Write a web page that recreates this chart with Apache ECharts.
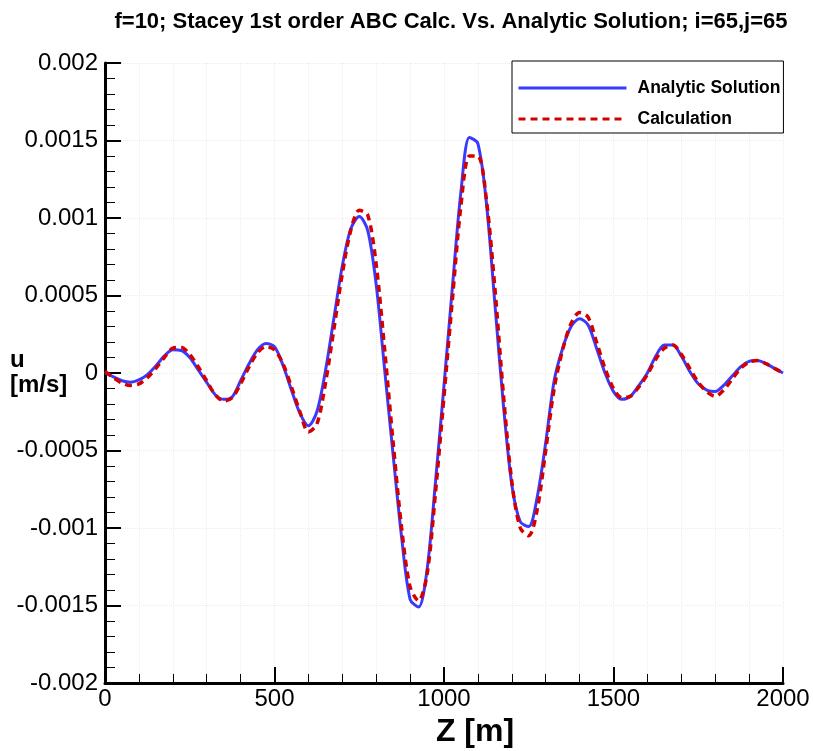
<!DOCTYPE html>
<html>
<head>
<meta charset="utf-8">
<script src="https://cdn.jsdelivr.net/npm/echarts@6/dist/echarts.min.js"></script>
<style>
  html, body { margin: 0; padding: 0; background: #fff; }
  #chart { width: 813px; height: 751px; }
</style>
</head>
<body>
<div id="chart"></div>
<script>
// z positions [m]
var zValues = [0, 25, 50, 75, 100, 125, 150, 175, 200, 225, 250, 275, 300, 325, 350, 375, 400, 425, 450, 475,
    500, 525, 550, 575, 600, 625, 650, 675, 700, 725, 750, 775, 800, 825, 850, 875, 900, 925, 950, 975,
    1000, 1025, 1050, 1075, 1100, 1125, 1150, 1175, 1200, 1225, 1250, 1275, 1300, 1325, 1350, 1375, 1400, 1425, 1450, 1475,
    1500, 1525, 1550, 1575, 1600, 1625, 1650, 1675, 1700, 1725, 1750, 1775, 1800, 1825, 1850, 1875, 1900, 1925, 1950, 1975, 2000];

// u [m/s], analytic solution
var analytic = [0, -0.000025, -0.00005, -0.00006, -0.000045, -0.00001, 0.000045, 0.00011, 0.00015, 0.000145,
    0.0001, 0.00002, -0.00006, -0.00014, -0.00017, -0.000155, -0.00005, 0.00006, 0.00015, 0.00019,
    0.00017, 0.00005, -0.00011, -0.00026, -0.00034, -0.00025, 0.00001, 0.00035, 0.00069, 0.00093,
    0.00101, 0.00092, 0.00057, 0.00002, -0.00053, -0.00106, -0.00146, -0.00151, -0.00127, -0.0007,
    -0.00008, 0.00056, 0.00117, 0.00152, 0.00148, 0.0011, 0.00045, -0.0002, -0.00072, -0.00096,
    -0.00099, -0.0008, -0.00045, -0.00005, 0.00016, 0.0003, 0.00035, 0.00031, 0.00016, 0,
    -0.00012, -0.00017, -0.00015, -0.00008, 0, 0.00011, 0.00018, 0.00018, 0.00011, 0.00001,
    -0.00007, -0.00011, -0.00012, -0.00008, -0.00002, 0.00004, 0.000075, 0.00008, 0.00006, 0.00003, 0];

// u [m/s], Stacey 1st order ABC calculation
var calculation = [0.00001, -0.00003, -0.000065, -0.00008, -0.00007, -0.00003, 0.00003, 0.0001, 0.00016, 0.000165,
    0.00012, 0.00004, -0.00005, -0.00014, -0.00018, -0.00016, -0.00007, 0.00004, 0.00013, 0.00017,
    0.00015, 0.00006, -0.00009, -0.00025, -0.00038, -0.00033, -0.00007, 0.00028, 0.00064, 0.00092,
    0.00105, 0.00102, 0.0007, 0.00015, -0.00045, -0.001, -0.00138, -0.00147, -0.0013, -0.00077,
    -0.00015, 0.00048, 0.00108, 0.0014, 0.0014, 0.00112, 0.00055, -0.00013, -0.0007, -0.001,
    -0.00105, -0.00088, -0.0005, -0.0001, 0.00015, 0.00032, 0.00039, 0.00036, 0.0002, 0.00003,
    -0.0001, -0.00016, -0.00015, -0.00009, -0.00001, 0.00009, 0.00016, 0.00018, 0.00012, 0.00003,
    -0.00006, -0.00012, -0.00015, -0.00011, -0.00004, 0.00003, 0.00007, 0.00008, 0.00006, 0.00003, 0];

var pairs = function (xs, ys) {
    return xs.map(function (x, i) { return [x, ys[i]]; });
};

var font = "'Liberation Sans', Arial, Helvetica, sans-serif";
var chart = echarts.init(document.getElementById('chart'));

chart.setOption({
    animation: false,
    backgroundColor: '#fff',
    title: {
        text: 'f=10; Stacey 1st order ABC Calc. Vs. Analytic Solution; i=65,j=65',
        left: 446,
        textAlign: 'center',
        top: 6,
        textStyle: { fontFamily: font, fontSize: 22, fontWeight: 'bold', color: '#000' }
    },
    legend: {
        orient: 'vertical',
        left: 512,
        top: 61,
        padding: [18, 3, 5, 5],
        itemWidth: 108,
        itemHeight: 14,
        itemGap: 13,
        backgroundColor: '#fff',
        borderColor: '#000',
        borderWidth: 1,
        borderRadius: 0,
        itemStyle: { opacity: 0 },
        lineStyle: { width: 3 },
        textStyle: { fontFamily: font, fontSize: 17.5, fontWeight: 'bold', color: '#000', padding: [0, 0, 0, 6] },
        data: ['Analytic Solution', 'Calculation']
    },
    grid: { left: 105, right: 30, top: 63, bottom: 68, outerBoundsMode: 'none', containLabel: false },
    xAxis: {
        type: 'value',
        min: 0, max: 2000, interval: 500,
        name: 'Z [m]',
        nameLocation: 'middle',
        nameGap: 32,
        nameTextStyle: { fontFamily: font, fontSize: 32, fontWeight: 'bold', color: '#000', padding: [0, 0, 0, 62] },
        axisLine: { show: true, onZero: false, lineStyle: { color: '#000', width: 3 } },
        axisTick: { inside: true, length: 16, lineStyle: { color: '#000', width: 2 } },
        minorTick: { show: true, splitNumber: 5, length: 9, lineStyle: { color: '#000', width: 1 } },
        axisLabel: { fontFamily: font, fontSize: 24, color: '#000', margin: 4, formatter: function (v) { return String(v); } },
        splitLine: { show: true, lineStyle: { color: '#ececec', type: 'dotted', width: 1 } },
        minorSplitLine: { show: true, lineStyle: { color: '#ececec', type: 'dotted', width: 1 } }
    },
    yAxis: {
        type: 'value',
        min: -0.002, max: 0.002, interval: 0.0005,
        name: 'u\n[m/s]',
        nameLocation: 'middle',
        nameRotate: 0,
        nameGap: 95,
        nameMoveOverlap: false,
        nameTextStyle: { fontFamily: font, fontSize: 24, fontWeight: 'bold', color: '#000', align: 'left', lineHeight: 25, padding: [26, 0, 0, 0] },
        axisLine: { show: true, onZero: false, lineStyle: { color: '#000', width: 3 } },
        axisTick: { inside: true, length: 16, lineStyle: { color: '#000', width: 2 } },
        minorTick: { show: true, splitNumber: 5, length: 10, lineStyle: { color: '#000', width: 1 } },
        axisLabel: { fontFamily: font, fontSize: 24, color: '#000', margin: 7 },
        splitLine: { show: true, lineStyle: { color: '#ececec', type: 'dotted', width: 1 } }
    },
    series: [
        {
            name: 'Analytic Solution',
            type: 'line',
            symbol: 'none',
            smooth: 0.3,
            color: '#3a3aff',
            lineStyle: { color: '#3a3aff', width: 3 },
            data: pairs(zValues, analytic)
        },
        {
            name: 'Calculation',
            type: 'line',
            symbol: 'none',
            smooth: 0.3,
            color: '#d40000',
            lineStyle: { color: '#d40000', width: 3.5, type: [7, 5] },
            data: pairs(zValues, calculation)
        }
    ]
});
</script>
</body>
</html>
